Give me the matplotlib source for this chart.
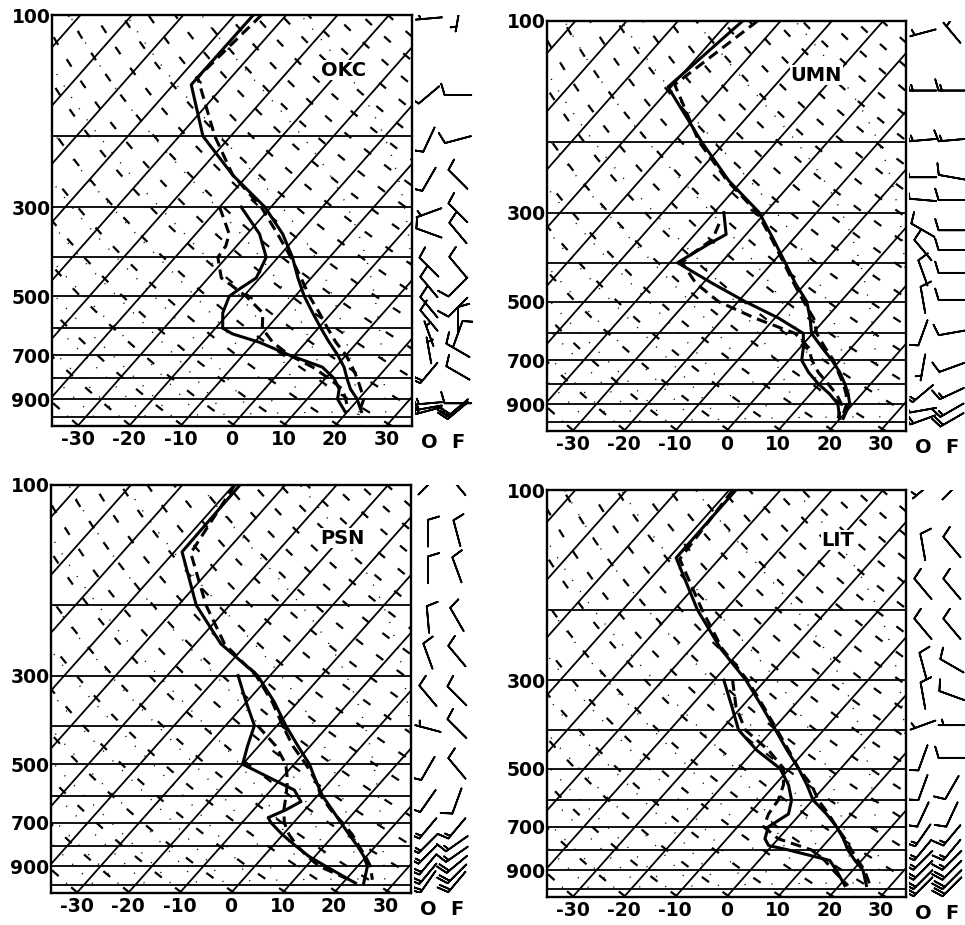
import numpy as np
import matplotlib.pyplot as plt
from matplotlib.ticker import NullLocator, FixedLocator

plt.rcParams['font.family'] = ['DejaVu Sans']
plt.rcParams['axes.unicode_minus'] = False

# ---- sounding data (T in deg C, p in mb) ----
# OKC
okc_t_obs_p = [100, 149, 200, 250, 300, 350, 400, 450, 500, 550, 600, 650, 700, 750, 800, 850, 900, 967]
okc_t_obs = [-66.4, -66.5, -55.4, -42.9, -31.2, -23.1, -17.2, -12.6, -8.2, -3.7, 0.5, 4.5, 8.4, 11.7, 14.2, 16.7, 19.7, 22.7]
okc_t_fc_p = [100, 143, 200, 250, 300, 350, 400, 450, 500, 550, 600, 650, 700, 750, 800, 850, 900, 985]
okc_t_fc = [-64.8, -66.5, -53.1, -42.9, -31.9, -24.1, -17.5, -12.0, -7.2, -2.4, 1.8, 5.8, 10.0, 13.3, 16.2, 18.7, 21.0, 22.6]
okc_td_obs_p = [300, 350, 400, 450, 480, 500, 550, 600, 620, 650, 700, 750, 800, 850, 900, 967]
okc_td_obs = [-35.8, -27.6, -22.3, -20.7, -22.1, -22.8, -21.2, -18.6, -15.7, -9.1, -1.0, 7.5, 11.7, 14.5, 15.9, 19.5]
okc_td_fc_p = [300, 350, 375, 400, 450, 500, 550, 600, 650, 700, 750, 800, 850, 900, 967]
okc_td_fc = [-40.0, -33.5, -32.1, -31.7, -27.5, -19.5, -13.4, -10.9, -6.5, -1.0, 5.6, 10.7, 15.1, 17.5, 20.1]

# UMN
umn_t_obs_p = [100, 146, 200, 250, 300, 350, 400, 450, 500, 550, 600, 650, 700, 750, 800, 850, 900, 977]
umn_t_obs = [-67.4, -70.6, -54.6, -42.6, -31.2, -23.8, -17.5, -12.0, -6.6, -3.1, -0.2, 4.2, 8.4, 12.0, 14.9, 17.4, 19.4, 20.6]
umn_t_fc_p = [100, 144, 200, 250, 300, 350, 400, 450, 500, 550, 600, 650, 700, 750, 800, 850, 900, 977]
umn_t_fc = [-64.5, -69.7, -55.1, -42.9, -31.6, -24.1, -17.8, -12.3, -7.2, -2.4, 0.8, 4.8, 8.7, 11.7, 14.6, 17.0, 18.8, 20.3]
umn_td_obs_p = [300, 340, 360, 400, 450, 500, 550, 600, 650, 700, 750, 800, 850, 900, 977]
umn_td_obs = [-38.1, -33.9, -35.7, -38.5, -28.2, -18.6, -9.2, -1.8, 0.6, 2.5, 5.9, 9.7, 13.8, 17.1, 19.9]
umn_td_fc_p = [320, 350, 380, 400, 450, 500, 550, 600, 650, 700, 750, 800, 850, 900, 977]
umn_td_fc = [-37.1, -35.7, -37.2, -37.6, -31.4, -23.8, -13.8, -3.4, 1.6, 4.5, 7.8, 11.6, 15.1, 17.8, 19.6]

# PSN
psn_t_obs_p = [100, 147, 200, 250, 300, 350, 400, 450, 500, 550, 600, 650, 700, 750, 800, 850, 900, 992]
psn_t_obs = [-68.8, -68.5, -56.5, -45.0, -32.4, -24.5, -18.3, -12.4, -7.0, -2.9, 1.0, 5.3, 9.2, 12.9, 16.4, 19.5, 21.9, 24.1]
psn_t_fc_p = [100, 148, 200, 250, 300, 350, 400, 450, 500, 550, 600, 650, 700, 750, 800, 850, 900, 973]
psn_t_fc = [-69.8, -66.6, -54.6, -44.3, -32.7, -24.9, -18.9, -13.4, -7.7, -2.9, 0.7, 5.0, 9.5, 13.5, 16.7, 19.8, 22.5, 25.2]
psn_td_obs_p = [300, 350, 400, 450, 500, 550, 580, 620, 650, 680, 700, 750, 800, 850, 900, 992]
psn_td_obs = [-36.2, -30.0, -24.4, -22.2, -20.0, -10.7, -5.5, -2.2, -3.7, -5.8, -4.4, -0.1, 4.4, 8.8, 13.8, 22.5]
psn_td_fc_p = [400, 450, 500, 550, 600, 650, 700, 750, 800, 850, 900, 973]
psn_td_fc = [-23.8, -16.7, -11.6, -8.4, -6.1, -4.1, -1.8, 1.2, 4.7, 8.5, 12.5, 20.7]

# LIT
lit_t_obs_p = [100, 148, 200, 250, 300, 350, 400, 450, 500, 550, 600, 650, 700, 750, 800, 850, 900, 983]
lit_t_obs = [-68.7, -68.6, -55.4, -44.2, -33.8, -26.0, -19.4, -13.6, -8.2, -3.7, 0.1, 5.1, 9.3, 12.7, 15.5, 18.7, 22.0, 25.3]
lit_t_fc_p = [100, 149, 200, 250, 300, 350, 400, 450, 500, 550, 600, 650, 700, 750, 800, 850, 900, 994]
lit_t_fc = [-69.3, -67.7, -54.5, -43.9, -33.5, -25.7, -19.1, -13.3, -8.2, -2.8, 1.1, 5.5, 9.3, 13.0, 16.2, 19.3, 22.3, 26.5]
lit_td_obs_p = [300, 350, 400, 450, 500, 550, 600, 650, 700, 750, 780, 800, 850, 900, 983]
lit_td_obs = [-38.1, -31.9, -26.6, -19.5, -11.8, -7.3, -4.1, -2.3, -4.0, -2.6, -0.7, 3.9, 13.8, 16.8, 21.1]
lit_td_fc_p = [300, 350, 400, 450, 500, 550, 600, 650, 700, 750, 800, 850, 900, 983]
lit_td_fc = [-36.4, -31.1, -25.3, -17.2, -11.1, -8.3, -6.7, -6.2, -4.9, 0.0, 8.4, 12.8, 16.2, 21.7]

# ---- winds (direction deg, speed kt): O = observed, F = forecast ----
okc_w_p = [102, 158, 204, 256, 310, 348, 423, 474, 532, 574, 619, 681, 775, 922, 946, 961]
okc_o_dir = [265, 230, 205, 210, 250, 290, 315, 320, 320, 320, 340, 350, 220, 265, 260, 255]
okc_o_spd = [5, 10, 10, 10, 5, 10, 10, 10, 10, 10, 5, 5, 20, 15, 15, 20]
okc_f_dir = [190, 270, 255, 315, 315, 320, 320, 225, 225, 360, 20, 300, 300, 270, 230, 230]
okc_f_spd = [5, 10, 10, 10, 10, 10, 10, 10, 10, 10, 10, 10, 10, 10, 20, 20]

umn_w_p = [107, 149, 198, 245, 279, 332, 372, 424, 495, 598, 729, 847, 932, 985]
umn_o_dir = [255, 270, 265, 270, 275, 300, 320, 340, 350, 200, 190, 230, 260, 250]
umn_o_spd = [5, 15, 15, 10, 10, 10, 10, 10, 10, 10, 5, 15, 10, 20]
umn_f_dir = [320, 270, 265, 280, 270, 270, 270, 270, 270, 260, 250, 245, 240, 240]
umn_f_spd = [5, 15, 15, 10, 10, 10, 10, 10, 10, 10, 10, 15, 15, 20]

psn_w_p = [100, 132, 163, 217, 268, 337, 407, 512, 618, 723, 790, 840, 890, 940, 985]
psn_o_dir = [45, 360, 360, 355, 340, 320, 285, 210, 215, 220, 225, 225, 220, 220, 215]
psn_o_spd = [10, 10, 10, 10, 10, 10, 5, 10, 10, 15, 15, 15, 20, 20, 20]
psn_f_dir = [320, 345, 340, 330, 320, 315, 315, 320, 200, 220, 235, 235, 230, 225, 220]
psn_f_spd = [5, 10, 10, 10, 10, 10, 10, 10, 10, 15, 15, 15, 20, 20, 20]

lit_w_p = [100, 139, 177, 223, 276, 328, 389, 470, 558, 652, 735, 800, 850, 900, 950, 990]
lit_o_dir = [230, 350, 320, 320, 345, 350, 250, 200, 200, 205, 215, 220, 225, 225, 225, 225]
lit_o_spd = [5, 10, 10, 10, 10, 10, 5, 10, 10, 10, 15, 15, 15, 20, 20, 20]
lit_f_dir = [45, 320, 320, 320, 300, 290, 270, 270, 210, 205, 220, 220, 225, 225, 225, 225]
lit_f_spd = [10, 10, 10, 10, 10, 10, 5, 10, 10, 10, 15, 15, 15, 20, 20, 20]

P_BOT, P_TOP = 1050.0, 100.0
SKEW = 30.0


def skew_x(t, p):
    return np.asarray(t, float) + SKEW * np.log(P_BOT / np.asarray(p, float))


def moist_adiabat(t_start, p_levels):
    # pseudo-adiabatic lapse rate, simple euler steps upward
    Rd, cp, Lv, eps = 287.04, 1005.7, 2.501e6, 0.622
    T = t_start + 273.15
    out = [T]
    for i in range(1, len(p_levels)):
        p0, p1 = p_levels[i - 1], p_levels[i]
        es = 6.112 * np.exp(17.67 * (T - 273.15) / (T - 273.15 + 243.5))
        rs = eps * es / (p0 - es)
        dTdp = (Rd * T + Lv * rs) / (cp + Lv ** 2 * rs * eps / (Rd * T ** 2)) / p0
        T = T + dTdp * (p1 - p0)
        out.append(T)
    return np.array(out) - 273.15


def draw_background(ax):
    p = np.linspace(P_BOT, P_TOP, 300)
    # isotherms
    for t0 in range(-150, 41, 10):
        ax.plot(skew_x([t0, t0], [P_BOT, P_TOP]), [P_BOT, P_TOP], color='black', lw=1.3)
    # dry adiabats
    for th in range(230, 471, 10):
        t = th * (p / 1000.0) ** 0.286 - 273.15
        ax.plot(skew_x(t, p), p, color='black', lw=1.6, ls=(0, (4, 7.5)))
    # saturated adiabats
    for t0 in range(-30, 41, 5):
        t = moist_adiabat(t0, p)
        ax.plot(skew_x(t, p), p, color='black', lw=1.0, ls=(0, (0.8, 9)))
    # isobars
    for pl in range(200, 1001, 100):
        ax.axhline(pl, color='black', lw=1.3)


def draw_panel(ax, axb, name, name_xy, t_obs, t_fc, td_obs, td_fc, winds):
    draw_background(ax)
    for (pp, tt), ls in [(t_obs, '-'), (td_obs, '-'), (t_fc, (0, (3.5, 2))), (td_fc, (0, (3.5, 2)))]:
        ax.plot(skew_x(tt, pp), pp, color='black', lw=2.2, ls=ls)

    ax.set_yscale('log')
    ax.set_ylim(P_BOT, P_TOP)
    ax.set_xlim(-35, 35)
    ax.yaxis.set_major_locator(FixedLocator([100, 300, 500, 700, 900]))
    ax.yaxis.set_minor_locator(NullLocator())
    ax.set_yticklabels(['100', '300', '500', '700', '900'])
    ax.set_xticks([-30, -20, -10, 0, 10, 20, 30])
    ax.tick_params(axis='x', length=0, labelsize=13.5, pad=3)
    ax.tick_params(axis='y', length=0, labelsize=13.5, pad=1)
    for lab in ax.get_xticklabels() + ax.get_yticklabels():
        lab.set_fontweight('bold')
    for sp in ax.spines.values():
        sp.set_linewidth(1.7)
    ax.text(name_xy[0], name_xy[1], name, transform=ax.transAxes, fontsize=14,
            fontweight='bold', ha='center', va='center',
            bbox=dict(facecolor='white', edgecolor='none', pad=0.5))

    # wind barbs
    wp, o_dir, o_spd, f_dir, f_spd = winds
    for xc, dirs, spds in [(0.24, o_dir, o_spd), (0.74, f_dir, f_spd)]:
        d = np.radians(dirs)
        s = np.asarray(spds, float)
        u = -s * np.sin(d)
        v = -s * np.cos(d)
        axb.barbs(np.full(len(wp), xc), wp, u, v, length=6.2, pivot='middle',
                  linewidth=1.3, color='black', sizes=dict(emptybarb=0.0, height=0.42))
    axb.set_yscale('log')
    axb.set_ylim(P_BOT, P_TOP)
    axb.set_xlim(0, 1)
    axb.axis('off')
    axb.text(0.24, -0.017, 'O', transform=axb.transAxes, ha='center', va='top',
             fontsize=14, fontweight='bold')
    axb.text(0.74, -0.017, 'F', transform=axb.transAxes, ha='center', va='top',
             fontsize=14, fontweight='bold')


W, H = 965, 925
fig = plt.figure(figsize=(W / 100, H / 100), dpi=100)


def px_axes(left, top, w, h):
    return fig.add_axes([left / W, 1 - (top + h) / H, w / W, h / H])


panels = [
    ('OKC', (52, 15, 360, 411), (0.81, 0.866),
     (okc_t_obs_p, okc_t_obs), (okc_t_fc_p, okc_t_fc), (okc_td_obs_p, okc_td_obs), (okc_td_fc_p, okc_td_fc),
     (okc_w_p, okc_o_dir, okc_o_spd, okc_f_dir, okc_f_spd)),
    ('UMN', (547, 21, 359, 410), (0.75, 0.868),
     (umn_t_obs_p, umn_t_obs), (umn_t_fc_p, umn_t_fc), (umn_td_obs_p, umn_td_obs), (umn_td_fc_p, umn_td_fc),
     (umn_w_p, umn_o_dir, umn_o_spd, umn_f_dir, umn_f_spd)),
    ('PSN', (51, 485, 360, 408), (0.81, 0.87),
     (psn_t_obs_p, psn_t_obs), (psn_t_fc_p, psn_t_fc), (psn_td_obs_p, psn_td_obs), (psn_td_fc_p, psn_td_fc),
     (psn_w_p, psn_o_dir, psn_o_spd, psn_f_dir, psn_f_spd)),
    ('LIT', (547, 490, 359, 407), (0.81, 0.877),
     (lit_t_obs_p, lit_t_obs), (lit_t_fc_p, lit_t_fc), (lit_td_obs_p, lit_td_obs), (lit_td_fc_p, lit_td_fc),
     (lit_w_p, lit_o_dir, lit_o_spd, lit_f_dir, lit_f_spd)),
]

for name, (l, t, w, h), nxy, tobs, tfc, tdobs, tdfc, winds in panels:
    ax = px_axes(l, t, w, h)
    axb = px_axes(l + w + 3, t, 58, h)
    draw_panel(ax, axb, name, nxy, tobs, tfc, tdobs, tdfc, winds)

fig.savefig('out.png', dpi=100)
